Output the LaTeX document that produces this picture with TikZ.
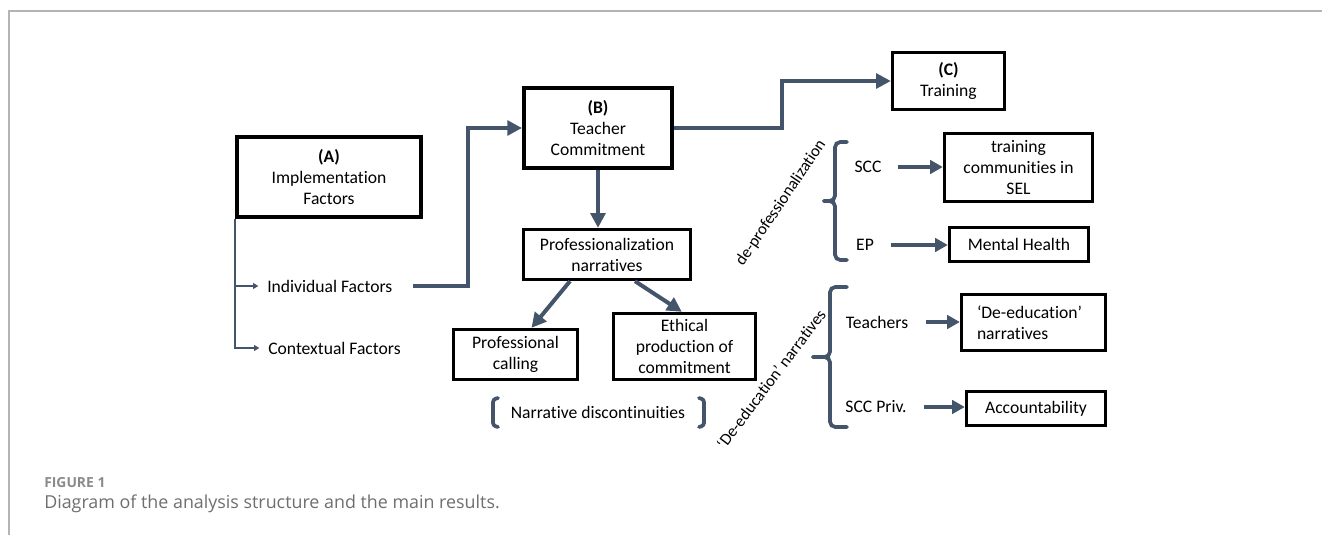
\documentclass[tikz,border=0pt]{standalone}
\usepackage{fontspec}
\setmainfont{Carlito}[Ligatures=NoCommon]
\newfontfamily\capfont{Open Sans}
\usetikzlibrary{arrows.meta}
\definecolor{slate}{HTML}{44546A}
\definecolor{framegray}{HTML}{B4B4B4}
\definecolor{capgray}{HTML}{6E6E6E}
\definecolor{figgray}{HTML}{8A8A8A}
\begin{document}
\begin{tikzpicture}[x=0.75pt,y=-0.75pt,
  every node/.style={font=\fontsize{13.2}{15.75}\selectfont, text=black},
  box/.style={draw=black, line width=2.5pt, align=center, inner sep=0pt},
  boxA/.style={box, line width=3pt},
  sz/.style 2 args={minimum width=#1*0.75pt, minimum height=#2*0.75pt},
  lbl/.style={inner sep=3pt},
  rot/.style={inner sep=1pt, font=\fontsize{12.4}{14}\selectfont},
  conn/.style={draw=slate, line width=3pt, -{Triangle[length=11pt,width=11pt]}},
  sconn/.style={draw=slate, line width=2.6pt, -{Triangle[length=9.5pt,width=10pt]}},
  thinarr/.style={draw=slate, line width=1.5pt, -{Triangle[length=4pt,width=4.5pt]}},
  brace/.style={draw=slate, line width=2.8pt, rounded corners=4pt, line cap=round},
  capfig/.style={anchor=west, inner sep=0pt, text=figgray, font=\capfont\bfseries\fontsize{10.4}{12}\selectfont},
  captext/.style={anchor=west, inner sep=0pt, text=capgray, font=\capfont\fontsize{13.4}{15}\selectfont}
]
\useasboundingbox (0,0) rectangle (1322,535);

% frame
\draw[framegray, line width=1.2pt] (9,535) -- (9,11) -- (1322,11);

% boxes
\node[boxA, sz={184}{80}] (A) at (329,177) {\textbf{(A)}\\Implementation\\Factors};
\node[boxA, sz={148}{80}] (B) at (598,128) {\textbf{(B)}\\Teacher\\Commitment};
\node[box, sz={112}{57}] (C) at (948.5,81) {\textbf{(C)}\\Training};
\node[box, sz={167}{50}] (P) at (607,254.5) {Professionalization\\narratives};
\node[box, sz={124}{50}] (PC) at (515.5,354.5) {Professional\\calling};
\node[box, sz={142}{66}] (EPC) at (684.5,346.5) {Ethical\\production of\\commitment};
\node[box, sz={148}{68}] (TC) at (1018.5,167.5) {training\\communities in\\SEL};
\node[box, sz={139}{34}] (MH) at (1019,244.5) {Mental Health};
\node[box, minimum height=42pt, text width=84.75pt, inner xsep=11.6pt, align=left] (DE) at (1033.5,322.5) {‘De-education’\\narratives};
\node[box, sz={139}{34}] (AC) at (1036,408.5) {Accountability};

% labels
\node[lbl, anchor=west] (ind) at (263,286) {Individual Factors};
\node[lbl, anchor=west] (ctx) at (264,348) {Contextual Factors};
\node[lbl] (scc) at (868,167) {SCC};
\node[lbl] (ep) at (865,245) {EP};
\node[lbl] (tea) at (877,322) {Teachers};
\node[lbl] (priv) at (876,407) {SCC Priv.};
\node[lbl] (nd) at (598,412) {Narrative discontinuities};
\node[rot, rotate=56] (dp) at (781,203) {de-professionalization};
\node[rot, rotate=53] (dn) at (771,379) {‘De-education’ narratives};

% caption
\node[capfig] (fig) at (44,483) {FIGURE 1};
\node[captext] (cap) at (44,504) {Diagram of the analysis structure and the main results.};

% thin branches from A
\draw[thinarr, shorten >=3.5pt] (A.south west) |- (ind.west);
\draw[thinarr, shorten >=3.5pt] (A.south west) |- (ctx.west);

% thick connectors
\coordinate (j1) at (468,200);
\coordinate (j2) at (782,100);
\draw[conn, shorten <=12.5pt] (ind.east) -| (j1) |- (B.west);
\draw[conn] (B.east) -| (j2) |- (C.west);
\draw[conn] (B.south) -- (B.south |- P.north);
\draw[conn] ([xshift=-27.75pt]P.south) -- ([xshift=12pt]PC.north);
\draw[conn] ([xshift=21pt]P.south) -- ([xshift=-2pt]EPC.north);

% right-hand arrows
\draw[sconn, shorten <=9pt] (scc.east) -- (scc.east -| TC.west);
\draw[sconn, shorten <=10pt] (ep.east) -- (ep.east -| MH.west);
\draw[sconn, shorten <=10pt] (tea.east) -- (tea.east -| DE.west);
\draw[sconn, shorten <=10pt] (priv.east) -- (priv.east -| AC.west);

% braces
\draw[brace] (847,142) -- (835,142) -- (835,201) -- (824,201);
\draw[brace] (824,201) -- (835,201) -- (835,260) -- (847,260);
\draw[brace] (847,287) -- (830,287) -- (830,357) -- (813,357);
\draw[brace] (813,357) -- (830,357) -- (830,427) -- (847,427);

% narrative discontinuities brackets
\draw[brace, rounded corners=2pt] (498,398) -- (493,399.5) -- (493,425.5) -- (498,427);
\draw[brace, rounded corners=2pt] (699,398) -- (704,399.5) -- (704,425.5) -- (699,427);
\end{tikzpicture}
\end{document}
